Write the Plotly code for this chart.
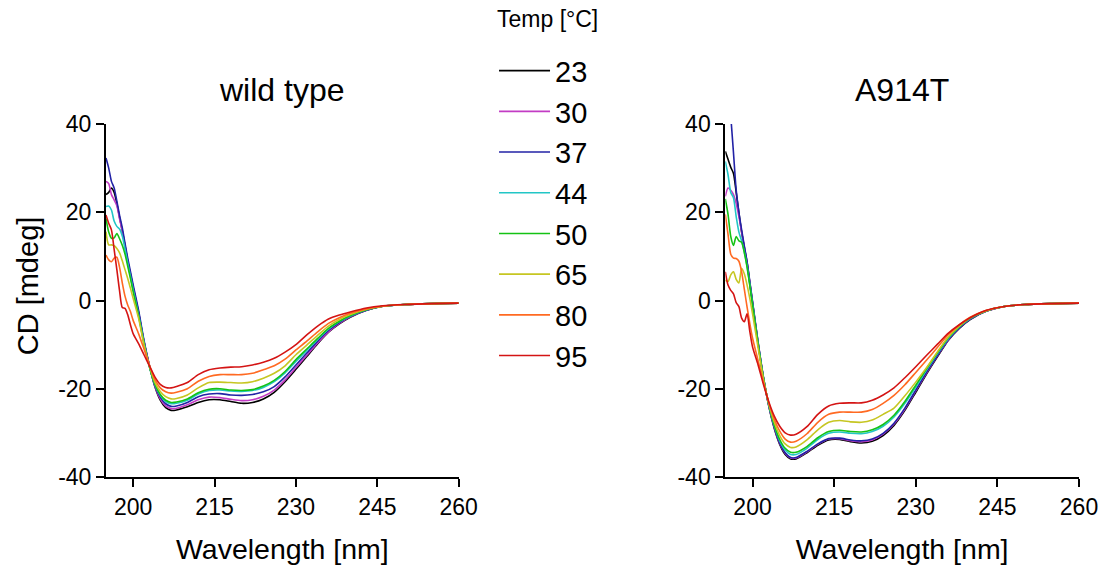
import plotly.graph_objects as go

# ---------------- data ----------------
WAVELENGTH = [195, 195.5, 196, 196.5, 197, 197.5, 198, 198.5, 199, 199.5, 200,
              201, 202, 203, 204, 205, 206, 207, 208, 210, 212, 214, 216, 218,
              220, 222, 224, 226, 228, 230, 232, 234, 236, 238, 240, 243, 246,
              250, 255, 260]

TEMPS = ["23", "30", "37", "44", "50", "65", "80", "95"]
COLORS = ["#000000", "#c23cc4", "#2222a6", "#22c6c6", "#14c214", "#c6c622", "#ff6a22", "#d41414"]

# wild type, CD [mdeg]
WT_23 = [24.0, 24.5, 25.5, 24.5, 22.0, 18.8, 15.8, 12.5, 9.0, 6.0, 3.0, -2.7, -9.3, -14.8, -19.5, -22.6, -24.3, -24.9, -24.8, -24.1, -23.1, -22.5, -22.5, -22.9, -23.3, -23.1, -22.3, -20.8, -18.4, -15.6, -12.7, -9.8, -7.2, -5.3, -3.8, -2.2, -1.3, -0.9, -0.7, -0.6]
WT_30 = [27.0, 26.5, 24.0, 22.8, 21.5, 18.5, 15.7, 12.3, 8.9, 5.9, 2.9, -2.8, -9.3, -14.7, -19.4, -22.3, -23.9, -24.5, -24.4, -23.6, -22.5, -21.9, -22.0, -22.4, -22.7, -22.5, -21.7, -20.3, -18.0, -15.2, -12.4, -9.6, -7.1, -5.2, -3.7, -2.2, -1.3, -0.9, -0.7, -0.6]
WT_37 = [32.3, 30.0, 27.0, 25.5, 22.5, 19.3, 16.5, 13.0, 9.6, 6.6, 3.6, -2.2, -9.0, -14.7, -19.2, -21.9, -23.4, -24.0, -23.9, -23.1, -21.8, -21.2, -21.1, -21.4, -21.5, -21.3, -20.7, -19.5, -17.3, -14.6, -11.9, -9.2, -6.8, -5.0, -3.6, -2.2, -1.3, -0.9, -0.7, -0.6]
WT_44 = [21.3, 21.4, 20.5, 18.0, 16.8, 16.2, 14.6, 11.7, 8.5, 5.5, 2.5, -3.2, -9.5, -15.0, -19.0, -21.5, -22.9, -23.4, -23.3, -22.6, -21.2, -20.4, -20.3, -20.5, -20.6, -20.4, -19.7, -18.4, -16.4, -13.8, -11.3, -8.8, -6.5, -4.8, -3.5, -2.1, -1.3, -0.9, -0.7, -0.6]
WT_50 = [18.6, 15.5, 14.1, 14.2, 15.2, 14.0, 12.5, 10.5, 7.8, 5.0, 2.0, -3.5, -9.8, -15.0, -18.9, -21.3, -22.6, -23.1, -23.0, -22.3, -20.9, -20.1, -20.0, -20.3, -20.4, -20.2, -19.4, -18.1, -16.1, -13.4, -11.0, -8.6, -6.3, -4.7, -3.4, -2.1, -1.3, -0.9, -0.7, -0.6]
WT_65 = [15.6, 12.6, 12.6, 12.4, 11.8, 10.8, 9.0, 7.0, 5.0, 2.8, 0.5, -4.0, -10.0, -14.8, -18.5, -20.6, -21.8, -22.3, -22.2, -21.4, -19.8, -18.6, -18.5, -18.6, -18.7, -18.4, -17.6, -16.5, -14.8, -12.3, -10.1, -7.9, -5.8, -4.3, -3.2, -2.0, -1.3, -0.9, -0.7, -0.6]
WT_80 = [10.3, 9.2, 8.8, 9.6, 9.8, 7.5, 4.0, 1.0, -1.0, -2.5, -4.5, -7.5, -11.0, -14.6, -17.9, -19.8, -20.7, -21.0, -20.8, -20.0, -18.3, -17.2, -16.8, -16.8, -16.8, -16.5, -15.7, -14.8, -13.3, -11.2, -9.2, -7.1, -5.2, -3.9, -2.9, -1.9, -1.3, -0.9, -0.7, -0.6]
WT_95 = [19.4, 17.5, 16.0, 11.6, 7.0, 2.2, -1.6, -1.8, -3.2, -5.5, -7.5, -9.8, -12.3, -14.8, -17.3, -19.0, -19.7, -19.8, -19.5, -18.6, -16.8, -15.7, -15.3, -15.1, -15.0, -14.6, -14.0, -13.1, -11.7, -10.0, -7.8, -5.8, -4.2, -3.3, -2.6, -1.7, -1.2, -0.9, -0.7, -0.6]

# A914T, CD [mdeg]
MT_23 = [33.8, 32.0, 30.2, 28.8, 24.5, 19.8, 15.5, 12.0, 8.5, 4.0, -0.5, -9.5, -17.5, -24.0, -29.0, -32.6, -34.9, -35.9, -35.9, -34.5, -32.8, -31.6, -31.5, -32.0, -32.3, -31.9, -30.6, -28.3, -24.9, -20.8, -16.6, -12.7, -9.0, -6.3, -4.3, -2.4, -1.4, -0.9, -0.7, -0.6]
MT_30 = [23.6, 25.5, 25.0, 24.0, 22.0, 19.0, 15.5, 12.0, 8.5, 4.0, -0.5, -9.4, -17.4, -23.9, -28.8, -32.4, -34.6, -35.7, -35.7, -34.3, -32.6, -31.4, -31.3, -31.8, -32.0, -31.6, -30.3, -28.0, -24.6, -20.5, -16.4, -12.5, -8.9, -6.2, -4.2, -2.4, -1.4, -0.9, -0.7, -0.6]
MT_37 = [58.0, 50.0, 41.8, 33.5, 25.0, 20.0, 16.0, 12.3, 8.8, 4.3, -0.2, -9.2, -17.3, -23.8, -28.7, -32.3, -34.5, -35.6, -35.6, -34.2, -32.5, -31.3, -31.2, -31.6, -31.8, -31.4, -30.1, -27.8, -24.4, -20.3, -16.2, -12.4, -8.8, -6.2, -4.2, -2.4, -1.4, -0.9, -0.7, -0.6]
MT_44 = [31.5, 28.5, 24.5, 23.3, 19.0, 15.5, 13.5, 11.0, 7.8, 3.6, -0.8, -9.6, -17.5, -23.7, -28.4, -31.8, -33.9, -34.9, -34.9, -33.5, -31.5, -30.1, -29.8, -30.1, -30.2, -29.7, -28.5, -26.4, -23.3, -19.6, -15.7, -12.0, -8.6, -6.0, -4.1, -2.3, -1.4, -0.9, -0.7, -0.6]
MT_50 = [23.0, 19.5, 14.5, 12.5, 14.5, 13.5, 13.2, 10.8, 7.5, 3.4, -1.0, -9.7, -17.5, -23.6, -28.2, -31.5, -33.5, -34.4, -34.4, -33.1, -31.1, -29.7, -29.4, -29.7, -29.8, -29.3, -28.1, -26.0, -22.9, -19.2, -15.4, -11.8, -8.4, -5.9, -4.0, -2.3, -1.4, -0.9, -0.7, -0.6]
MT_65 = [4.6, 4.3, 5.8, 6.5, 4.8, 4.0, 7.3, 6.0, 3.5, 0.5, -3.0, -10.5, -17.8, -23.4, -27.6, -30.6, -32.5, -33.3, -33.2, -31.6, -29.3, -27.6, -27.2, -27.5, -27.6, -27.1, -25.8, -24.4, -21.6, -18.5, -15.2, -11.6, -8.2, -5.8, -3.9, -2.3, -1.4, -0.9, -0.7, -0.6]
MT_80 = [19.5, 15.0, 10.5, 9.6, 9.5, 8.9, 6.5, 2.5, -1.5, -5.2, -8.5, -13.5, -18.5, -23.2, -26.9, -29.6, -31.4, -32.1, -31.9, -30.2, -27.6, -25.8, -25.3, -25.3, -25.3, -24.7, -23.3, -21.5, -19.1, -16.3, -13.5, -10.6, -7.7, -5.5, -3.8, -2.2, -1.4, -0.9, -0.7, -0.6]
MT_95 = [6.5, 3.5, 2.3, 1.5, -0.5, -1.4, -4.0, -4.8, -3.0, -7.0, -10.5, -14.5, -19.0, -23.0, -26.2, -28.5, -30.0, -30.5, -30.3, -28.6, -25.8, -23.9, -23.3, -23.2, -23.2, -22.6, -21.4, -19.8, -17.5, -15.0, -12.4, -9.9, -7.4, -5.5, -3.9, -2.2, -1.4, -0.9, -0.7, -0.6]

WT_SERIES = [WT_23, WT_30, WT_37, WT_44, WT_50, WT_65, WT_80, WT_95]
MT_SERIES = [MT_23, MT_30, MT_37, MT_44, MT_50, MT_65, MT_80, MT_95]

PANEL_TITLES = ["wild type", "A914T"]
X_TITLE = "Wavelength [nm]"
Y_TITLE = "CD [mdeg]"
LEGEND_TITLE = "Temp [°C]"
X_TICKS = [200, 215, 230, 245, 260]
Y_TICKS = [-40, -20, 0, 20, 40]
Y_TICK_TEXT = ["-40", "-20", "0", "20", "40"]
X_RANGE = [195, 260]
Y_RANGE = [-40, 40]

# ---------------- figure ----------------
FONT = "Arial, Liberation Sans, sans-serif"
fig = go.Figure()

for i, t in enumerate(TEMPS):
    fig.add_trace(go.Scatter(
        x=WAVELENGTH, y=WT_SERIES[i], mode="lines", name=t, legendgroup=t,
        line=dict(color=COLORS[i], width=1.6, shape="spline", smoothing=0.7),
        xaxis="x", yaxis="y", showlegend=True))
for i, t in enumerate(TEMPS):
    fig.add_trace(go.Scatter(
        x=WAVELENGTH, y=MT_SERIES[i], mode="lines", name=t, legendgroup=t,
        line=dict(color=COLORS[i], width=1.6, shape="spline", smoothing=0.7),
        xaxis="x2", yaxis="y2", showlegend=False))

axis_common = dict(
    showline=True, linecolor="black", linewidth=2, showgrid=False, zeroline=False,
    ticks="outside", ticklen=8, tickwidth=2, tickcolor="black",
    tickfont=dict(family=FONT, size=23, color="black"), automargin=False,
)

xa = dict(axis_common, range=X_RANGE, tickmode="array", tickvals=X_TICKS,
          title=dict(text=X_TITLE, font=dict(family=FONT, size=28.5, color="black"), standoff=20))
ya = dict(axis_common, range=Y_RANGE, tickmode="array", tickvals=Y_TICKS, ticktext=Y_TICK_TEXT)

fig.update_layout(
    width=1105, height=568,
    paper_bgcolor="white", plot_bgcolor="white",
    margin=dict(l=106, r=26, t=124, b=91),
    font=dict(family=FONT, color="black"),
    xaxis=dict(xa, domain=[0, 0.3625], anchor="y"),
    yaxis=dict(ya, domain=[0, 1], anchor="x"),
    xaxis2=dict(xa, domain=[0.6365, 1], anchor="y2"),
    yaxis2=dict(ya, domain=[0, 1], anchor="x2"),
    showlegend=True,
    legend=dict(x=0.3988, y=1.223, xanchor="left", yanchor="top",
                font=dict(family=FONT, size=29, color="black"),
                bgcolor="rgba(0,0,0,0)", borderwidth=0, tracegroupgap=0,
                itemwidth=51, maxheight=420),
    annotations=[
        dict(text=PANEL_TITLES[0], x=0.1813, y=1.0955, xref="paper", yref="paper",
             showarrow=False, xanchor="center", yanchor="middle",
             font=dict(family=FONT, size=32, color="black")),
        dict(text=PANEL_TITLES[1], x=0.8184, y=1.0955, xref="paper", yref="paper",
             showarrow=False, xanchor="center", yanchor="middle",
             font=dict(family=FONT, size=32, color="black")),
        dict(text=LEGEND_TITLE, x=0.4538, y=1.2966, xref="paper", yref="paper",
             showarrow=False, xanchor="center", yanchor="middle",
             font=dict(family=FONT, size=23, color="black")),
        dict(text=Y_TITLE, x=-0.0802, y=0.543, xref="paper", yref="paper",
             showarrow=False, xanchor="center", yanchor="middle", textangle=-90,
             font=dict(family=FONT, size=29, color="black")),
    ],
)

fig.write_html("out.html", config={"displayModeBar": False},
               post_script="document.body.style.margin='0px';document.body.style.overflow='hidden';")
